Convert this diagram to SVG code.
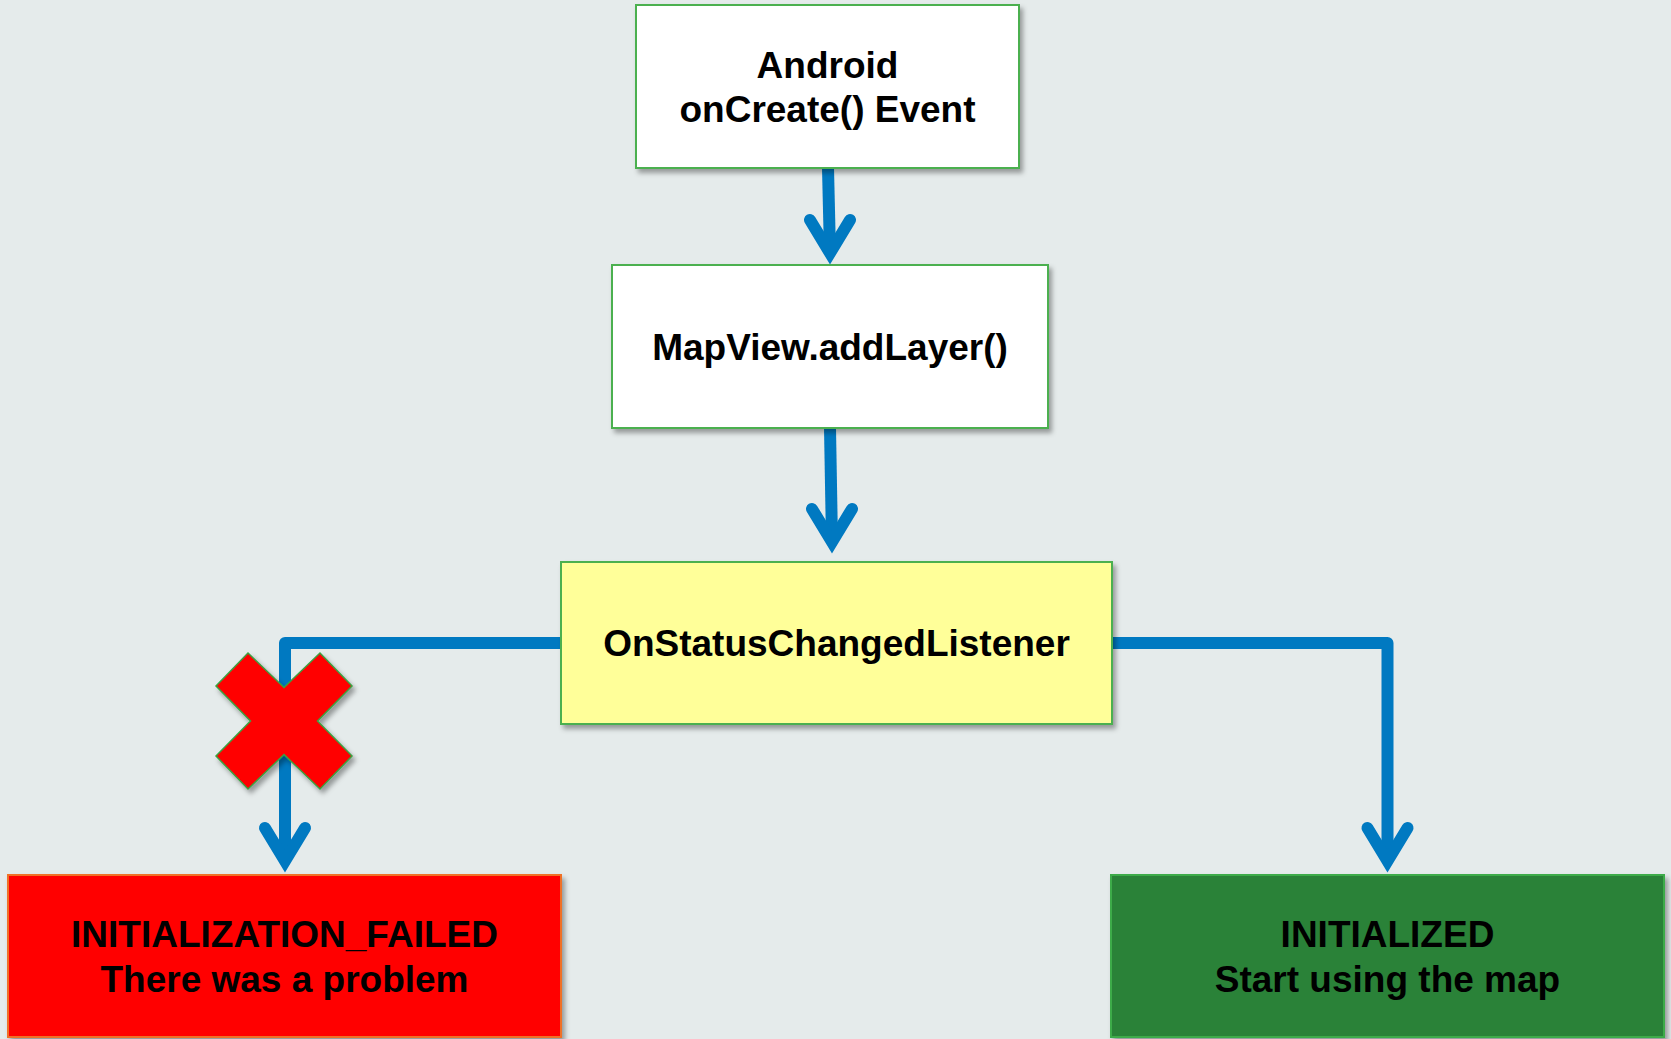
<svg xmlns="http://www.w3.org/2000/svg" width="1671" height="1039" viewBox="0 0 1671 1039">
<defs>
<filter id="sh" x="-10%" y="-10%" width="130%" height="130%">
<feDropShadow dx="3" dy="4" stdDeviation="2.5" flood-color="#000" flood-opacity="0.35"/>
</filter>
<style>
.box{stroke-width:2;filter:url(#sh)}
.w{fill:#ffffff;stroke:#4cb050}
.y{fill:#ffff99;stroke:#4cb050}
.r{fill:#ff0000;stroke:#f07028}
.g{fill:#2a8239;stroke:#3cab48}
.t{font-family:"Liberation Sans",Arial,sans-serif;font-weight:bold;font-size:37px;fill:#000;text-anchor:middle}
.c{fill:none;stroke:#0079c1;stroke-width:12;stroke-linejoin:round}
.ah{fill:none;stroke:#0079c1;stroke-width:12;stroke-linecap:round;stroke-linejoin:miter;stroke-miterlimit:4}
</style>
</defs>
<rect width="1671" height="1039" fill="#e5ebeb"/>
<g id="connectors">
<path class="c" d="M828,168 L830,253"/>
<path class="ah" d="M810,220 L830,253 L850,220"/>
<path class="c" d="M830,428 L832,542"/>
<path class="ah" d="M812,509 L832,542 L852,509"/>
<path class="c" d="M562,643 H285 V861"/>
<path class="ah" d="M265,828 L285,861 L305,828"/>
<path class="c" d="M1111,643 H1387.5 V861"/>
<path class="ah" d="M1367.5,828 L1387.5,861 L1407.5,828"/>
</g>
<g id="cross">
<polygon points="248,653 284,687.5 320,653 352,686 317.5,721 352,756 320,789 284,754.5 248,789 216,756 250.5,721 216,686" fill="#ff0000" stroke="#3da040" stroke-width="1.5" filter="url(#sh)"/>
</g>
<g id="node-oncreate">
<rect class="box w" x="636" y="5" width="383" height="163"/>
<text class="t" x="827.5" y="78">Android</text>
<text class="t" x="827.5" y="122">onCreate() Event</text>
</g>
<g id="node-addlayer">
<rect class="box w" x="612" y="265" width="436" height="163"/>
<text class="t" x="830" y="360">MapView.addLayer()</text>
</g>
<g id="node-listener">
<rect class="box y" x="561" y="562" width="551" height="162"/>
<text class="t" x="836.5" y="656">OnStatusChangedListener</text>
</g>
<g id="node-failed">
<rect class="box r" x="8" y="875" width="553" height="162"/>
<text class="t" x="284.5" y="947">INITIALIZATION_FAILED</text>
<text class="t" x="284.5" y="992">There was a problem</text>
</g>
<g id="node-initialized">
<rect class="box g" x="1111" y="875" width="553" height="162"/>
<text class="t" x="1387.5" y="947">INITIALIZED</text>
<text class="t" x="1387.5" y="992">Start using the map</text>
</g>
</svg>
